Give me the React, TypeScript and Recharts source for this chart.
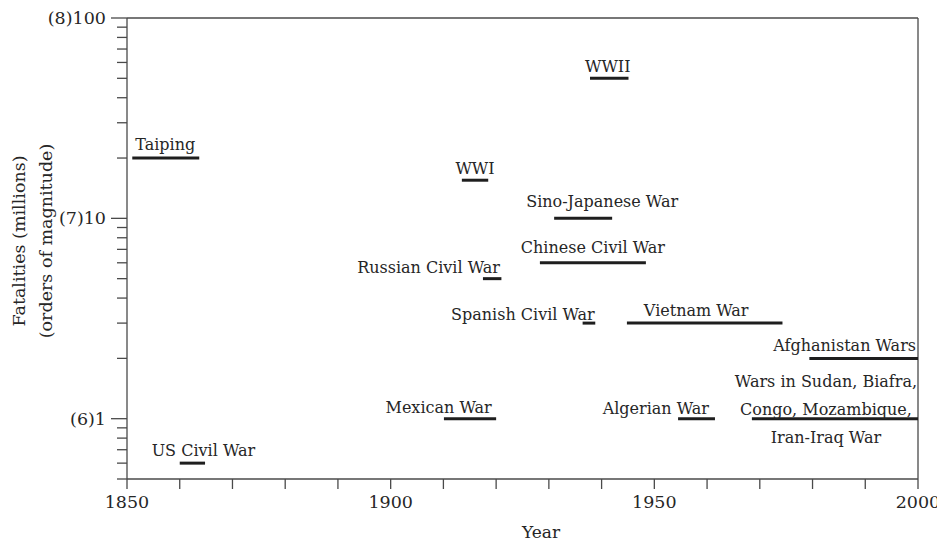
import React from 'react';
import { ComposedChart, Line, XAxis, YAxis, ReferenceLine, ReferenceDot } from 'recharts';

// ---- data ----
const warLabels: string[][] = [
  ['Taiping'],
  ['US Civil War'],
  ['WWI'],
  ['WWII'],
  ['Sino-Japanese War'],
  ['Chinese Civil War'],
  ['Russian Civil War'],
  ['Spanish Civil War'],
  ['Vietnam War'],
  ['Afghanistan Wars'],
  ['Wars in Sudan, Biafra,', 'Congo, Mozambique,', 'Iran-Iraq War'],
  ['Algerian War'],
  ['Mexican War'],
];
const startYears = [1851, 1860, 1913.5, 1937.8, 1931, 1928.3, 1917.5, 1936.4, 1944.8, 1979.4, 1968.5, 1954.5, 1910.1];
const endYears = [1863.7, 1864.8, 1918.5, 1945.1, 1942, 1948.4, 1921, 1938.8, 1974.3, 2000, 2000, 1961.5, 1920];
const fatalities = [20, 0.6, 15.5, 50, 10, 6, 5, 3, 3, 2, 1, 1, 1];

const yMajorTicks = [1, 10, 100];
const yMajorLabels = ['(6)1', '(7)10', '(8)100'];
const yMinorTicks = [0.5, 0.6, 0.7, 0.8, 0.9, 2, 3, 4, 5, 6, 7, 8, 9, 20, 30, 40, 50, 60, 70, 80, 90];
const xTicks = [1850, 1860, 1870, 1880, 1890, 1900, 1910, 1920, 1930, 1940, 1950, 1960, 1970, 1980, 1990, 2000];
const xTickLabels = ['1850', '1900', '1950', '2000'];

// ---- label layout (styling, not data) ----
const labelAnchor = ['start', 'middle', 'middle', 'middle', 'middle', 'middle', 'end', 'end', 'middle', 'end', 'middle', 'end', 'end'];
const labelDx = [3, 11, 0, -1.5, 19, 0, -1.5, -0.5, -8.5, -2, -9, -6, -4.5];
const labelDy = [-8, -7, -6.6, -6, -11.5, -10, -5.6, -3.5, -6.7, -7, -32, -5, -5.7];

const FONT = '"DejaVu Serif", serif';
const TEXT = '#262626';
const AXIS = '#4a4a4a';
const BAR = '#1e1e1e';

const yTicks = [...yMinorTicks, ...yMajorTicks].sort((a, b) => a - b);

const YTick = (props: any) => {
  const { x, y, payload } = props;
  const idx = yMajorTicks.indexOf(payload.value);
  const major = idx >= 0;
  return (
    <g>
      <line x1={x - (major ? 16 : 10)} x2={x} y1={y} y2={y} stroke={AXIS} strokeWidth={1.3} />
      {major && (
        <text x={x - 21} y={y + 6} textAnchor="end" fontFamily={FONT} fontSize={17.5} fill={TEXT}>
          {yMajorLabels[idx]}
        </text>
      )}
    </g>
  );
};

const XTick = (props: any) => {
  const { x, y, payload } = props;
  const lbl = String(payload.value);
  return (
    <g>
      <line x1={x} x2={x} y1={y} y2={y + 10} stroke={AXIS} strokeWidth={1.3} />
      {xTickLabels.includes(lbl) && (
        <text x={x} y={y + 29} textAnchor="middle" fontFamily={FONT} fontSize={17.5} fill={TEXT}>
          {lbl}
        </text>
      )}
    </g>
  );
};

const makeWarLabel = (i: number) => (props: any) => {
  const vb = props.viewBox || {};
  const cx = (vb.x || 0) + (vb.width || 0) / 2;
  const cy = (vb.y || 0) + (vb.height || 0) / 2;
  const lines = warLabels[i];
  return (
    <text
      x={cx + labelDx[i]}
      y={cy + labelDy[i]}
      textAnchor={labelAnchor[i] as any}
      fontFamily={FONT}
      fontSize={16}
      fill={TEXT}
    >
      {lines.map((ln, k) => (
        <tspan key={k} x={cx + labelDx[i]} dy={k === 0 ? 0 : 28.2}>
          {ln}
        </tspan>
      ))}
    </text>
  );
};

const YTitle = (props: any) => {
  const vb = props.viewBox || { x: 0, y: 0, width: 0, height: 0 };
  const cy = vb.y + vb.height / 2 - 7.5;
  return (
    <g fontFamily={FONT} fontSize={17.5} fill={TEXT}>
      <text transform={`translate(${vb.x + 16.5},${cy}) rotate(-90)`} textAnchor="middle">
        Fatalities (millions)
      </text>
      <text transform={`translate(${vb.x + 43.5},${cy}) rotate(-90)`} textAnchor="middle">
        (orders of magnitude)
      </text>
    </g>
  );
};

const XTitle = (props: any) => {
  const vb = props.viewBox || { x: 0, y: 0, width: 0, height: 0 };
  return (
    <text x={vb.x + vb.width / 2 + 18.5} y={vb.y + 59} textAnchor="middle" fontFamily={FONT} fontSize={17} fill={TEXT}>
      Year
    </text>
  );
};

export default function App() {
  const series = startYears.map((s, i) => [
    { year: s, v: fatalities[i] },
    { year: endYears[i], v: fatalities[i] },
  ]);
  const anchorYear = (i: number) =>
    labelAnchor[i] === 'start' ? startYears[i] : labelAnchor[i] === 'end' ? endYears[i] : (startYears[i] + endYears[i]) / 2;

  return (
    <ComposedChart width={937} height={535} margin={{ top: 10, right: 27, bottom: 0, left: 0 }}>
      <XAxis
        dataKey="year"
        type="number"
        domain={[1850, 2000]}
        ticks={xTicks}
        interval={0}
        tickSize={0}
        tickMargin={0}
        tickLine={false}
        tick={<XTick />}
        height={64}
        axisLine={{ stroke: AXIS, strokeWidth: 1.3 }}
        allowDataOverflow
        label={<XTitle />}
      />
      <YAxis
        type="number"
        scale="log"
        domain={[0.5, 100]}
        ticks={yTicks}
        interval={0}
        tickSize={0}
        tickMargin={0}
        tickLine={false}
        tick={<YTick />}
        width={119}
        axisLine={{ stroke: AXIS, strokeWidth: 1.3 }}
        allowDataOverflow
        label={<YTitle />}
      />
      <ReferenceLine y={100} stroke={AXIS} strokeWidth={1.3} ifOverflow="visible" />
      <ReferenceLine x={2000} stroke={AXIS} strokeWidth={1.3} ifOverflow="visible" />
      {series.map((d, i) => (
        <Line
          key={`war-${i}`}
          data={d}
          dataKey="v"
          stroke={BAR}
          strokeWidth={3}
          dot={false}
          activeDot={false}
          isAnimationActive={false}
          legendType="none"
        />
      ))}
      {series.map((_, i) => (
        <ReferenceDot
          key={`lbl-${i}`}
          x={anchorYear(i)}
          y={fatalities[i]}
          r={0}
          fill="none"
          stroke="none"
          ifOverflow="visible"
          label={makeWarLabel(i)}
        />
      ))}
    </ComposedChart>
  );
}
